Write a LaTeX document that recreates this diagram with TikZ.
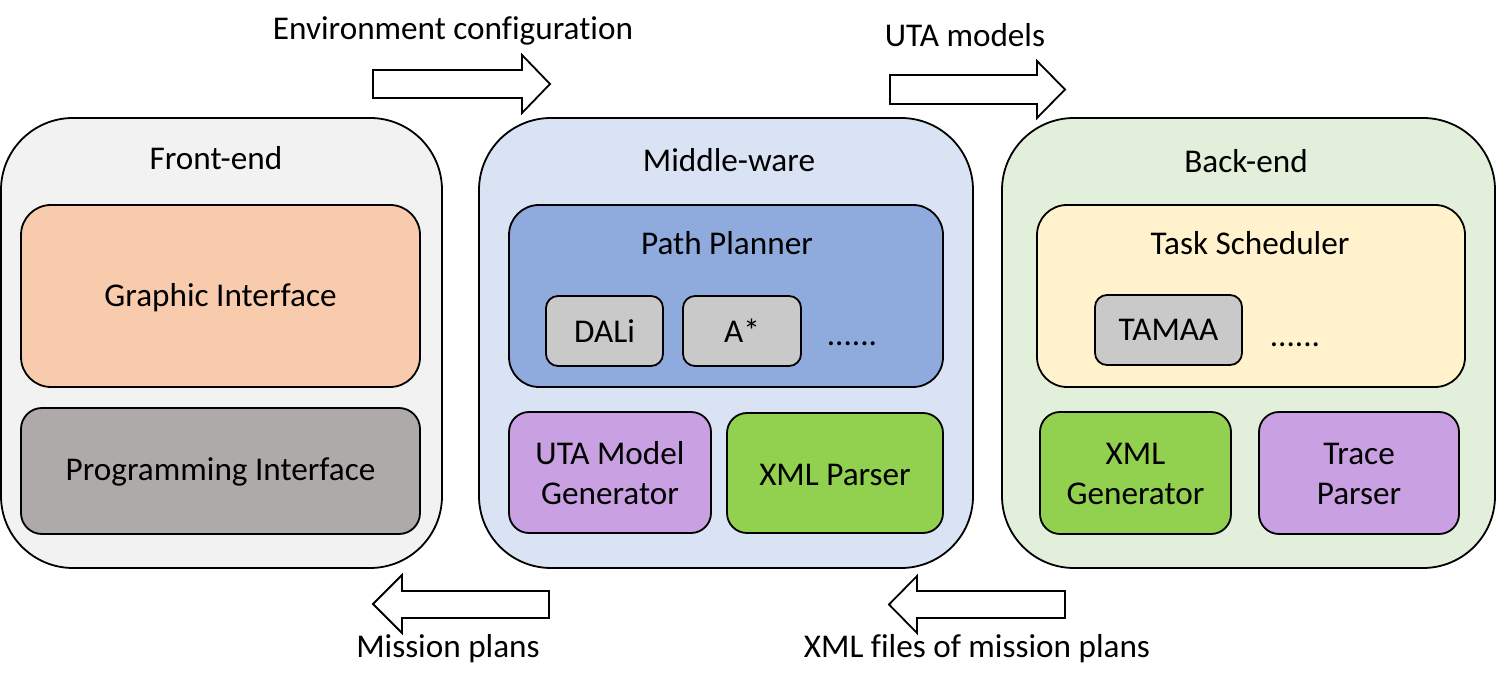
\documentclass[tikz,border=0pt]{standalone}
\usepackage{fontspec}
\setmainfont{Carlito}[Ligatures=NoCommon]
\definecolor{feFill}{HTML}{F2F2F2}
\definecolor{giFill}{HTML}{F8CBAD}
\definecolor{piFill}{HTML}{AEAAAA}
\definecolor{mwFill}{HTML}{DAE3F3}
\definecolor{ppFill}{HTML}{8FAADC}
\definecolor{algFill}{HTML}{C9C9C9}
\definecolor{purpFill}{HTML}{C9A0E2}
\definecolor{greenFill}{HTML}{92D050}
\definecolor{beFill}{HTML}{E2EFDA}
\definecolor{tsFill}{HTML}{FFF2CC}
\tikzset{
  rbox/.style={draw=black, line width=0.9pt, rectangle, inner sep=0pt, outer sep=0pt},
  lbl/.style={font=\fontsize{16.6}{20}\selectfont, text=black, inner sep=0pt, align=center},
  fatarrow/.style={draw=black, line width=0.9pt, fill=white, line join=miter}
}
\begin{document}
\begin{tikzpicture}[x=0.5pt,y=-0.5pt]
\useasboundingbox (0,0) rectangle (1497,688);
\fill[white] (0,0) rectangle (1497,688);

% ---------- Front-end ----------
\node[rbox, fill=feFill, rounded corners=36pt, minimum width=220.5pt, minimum height=225pt] (front) at (221.5,343) {};
\node[lbl] (frontT) at (216,158) {Front-end};
\node[rbox, fill=giFill, rounded corners=15pt, minimum width=199.5pt, minimum height=91pt] (gi) at (220.5,296) {};
\node[lbl] (giT) at (220.5,298) {Graphic Interface};
\node[rbox, fill=piFill, rounded corners=10.5pt, minimum width=199.5pt, minimum height=63pt] (pi) at (220.5,471) {};
\node[lbl] (piT) at (220.5,472) {Programming Interface};

% ---------- Middle-ware ----------
\node[rbox, fill=mwFill, rounded corners=36pt, minimum width=247pt, minimum height=225pt] (mid) at (726,343) {};
\node[lbl] (midT) at (729,160) {Middle-ware};
\node[rbox, fill=ppFill, rounded corners=15pt, minimum width=217pt, minimum height=91pt] (pp) at (726,296) {};
\node[lbl] (ppT) at (727,243) {Path Planner};
\node[rbox, fill=algFill, rounded corners=6pt, minimum width=58.5pt, minimum height=35pt] (dali) at (604.5,331) {};
\node[lbl] (daliT) at (604.5,331) {DALi};
\node[rbox, fill=algFill, rounded corners=6pt, minimum width=59pt, minimum height=35pt] (astar) at (742,331) {};
\node[lbl] (astarT) at (742,331) {A*};
\node[lbl, anchor=base] (ppDots) at (852,346) {......};
\node[rbox, fill=purpFill, rounded corners=10pt, minimum width=101pt, minimum height=60.5pt] (uta) at (610,472.5) {};
\node[lbl] (utaT) at (610,473) {UTA Model\\Generator};
\node[rbox, fill=greenFill, rounded corners=10pt, minimum width=108pt, minimum height=60pt] (xmlp) at (835,473) {};
\node[lbl] (xmlpT) at (835,475) {XML Parser};

% ---------- Back-end ----------
\node[rbox, fill=beFill, rounded corners=36pt, minimum width=246.5pt, minimum height=225pt] (back) at (1248.5,343) {};
\node[lbl] (backT) at (1246,161) {Back-end};
\node[rbox, fill=tsFill, rounded corners=15pt, minimum width=214pt, minimum height=91pt] (ts) at (1251,296) {};
\node[lbl] (tsT) at (1250,243) {Task Scheduler};
\node[rbox, fill=algFill, rounded corners=6pt, minimum width=73.5pt, minimum height=35pt] (tamaa) at (1168.5,330) {};
\node[lbl] (tamaaT) at (1168.5,330) {TAMAA};
\node[lbl, anchor=base] (tsDots) at (1295,347) {......};
\node[rbox, fill=greenFill, rounded corners=10pt, minimum width=95.5pt, minimum height=61pt] (xmlg) at (1135.5,473) {};
\node[lbl] (xmlgT) at (1135.5,474) {XML\\Generator};
\node[rbox, fill=purpFill, rounded corners=10pt, minimum width=100pt, minimum height=61pt] (tp) at (1359,473) {};
\node[lbl] (tpT) at (1359,474) {Trace\\Parser};

% ---------- Flow arrows ----------
\draw[fatarrow] (373,70) -- (522,70) -- (522,55) -- (550,84) -- (522,113) -- (522,98) -- (373,98) -- cycle;
\draw[fatarrow] (890,75) -- (1037,75) -- (1037,61) -- (1065,89.5) -- (1037,118) -- (1037,104) -- (890,104) -- cycle;
\draw[fatarrow] (549,591) -- (402,591) -- (402,575) -- (373,604) -- (402,633) -- (402,618) -- (549,618) -- cycle;
\draw[fatarrow] (1065,591) -- (917,591) -- (917,576) -- (889,604.5) -- (917,633) -- (917,618) -- (1065,618) -- cycle;

\node[lbl] (envT) at (453,31) {Environment configuration};
\node[lbl] (utamT) at (965,35) {UTA models};
\node[lbl] (misT) at (448,649) {Mission plans};
\node[lbl] (xmlfT) at (977,649) {XML files of mission plans};
\end{tikzpicture}
\end{document}
